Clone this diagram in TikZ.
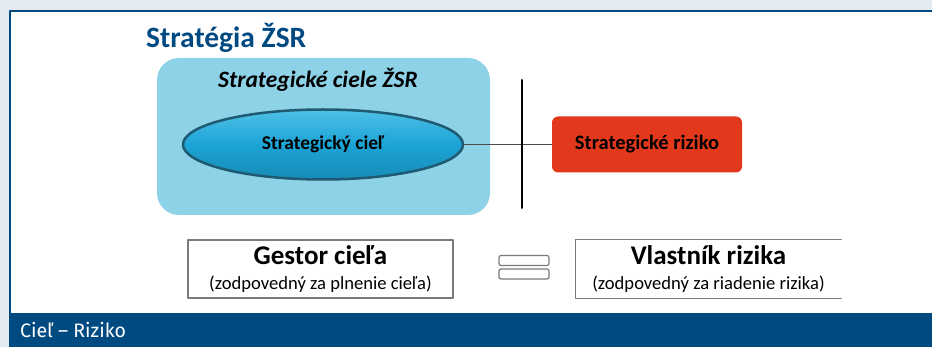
\documentclass[tikz,border=0pt]{standalone}
\usepackage{fontspec}
\setmainfont{Carlito}
\newfontfamily\barfont{Fira Sans}
\usetikzlibrary{shapes.geometric}

\definecolor{zsrblue}{HTML}{004A82}
\definecolor{framebg}{HTML}{E4EAF1}
\definecolor{cielbg}{HTML}{8ED2E8}
\definecolor{ovalfill}{HTML}{1BA4D6}
\definecolor{ovaltop}{HTML}{4FC0E6}
\definecolor{ovaledge}{HTML}{1E5A72}
\definecolor{rizikored}{HTML}{E2391C}
\definecolor{boxgray}{HTML}{7A7A7A}

\tikzset{
  ownerbox/.style={minimum width=265pt, minimum height=58pt, inner sep=0pt, align=center, font=\fontsize{18.6}{25}\selectfont},
  eqbar/.style={draw=boxgray, line width=1.2pt, fill=white, rounded corners=2pt, minimum width=50pt, minimum height=10pt, inner sep=0pt},
}
\newcommand\ownerhead[1]{{\bfseries\fontsize{27}{25}\selectfont #1}}

\begin{document}
\begin{tikzpicture}[x=1pt, y=-1pt, line cap=round, line join=round]

  %% ════ pozadie a rám ════
  \fill[framebg] (0,0) rectangle (932,347);
  \fill[white] (9,10) rectangle (932,313);
  \draw[zsrblue, line width=2pt] (10,347) -- (10,11) -- (932,11);
  \fill[zsrblue] (9,313) rectangle (932,347);
  \node[anchor=west, inner sep=0pt, text=white, font=\barfont\fontsize{19.5}{22}\selectfont] (barlabel) at (20,330) {Cieľ – Riziko};

  %% ════ nadpis ════
  \node[anchor=west, inner sep=0pt, text=zsrblue, font=\bfseries\fontsize{29.5}{32}\selectfont] (title) at (146,38) {Stratégia ŽSR};

  %% ════ strategické ciele ════
  \fill[cielbg, rounded corners=22pt] (157,58) rectangle (490,215);
  \node[inner sep=0pt, font=\bfseries\itshape\fontsize{23.5}{26}\selectfont] (cielehead) at (318,80) {Strategické ciele ŽSR};
  \node[ellipse, draw=ovaledge, line width=2.5pt, top color=ovaltop, bottom color=ovalfill!85!black, middle color=ovalfill, minimum width=280pt, minimum height=70pt, inner sep=0pt, font=\bfseries\fontsize{19.5}{22}\selectfont] (ciel) at (323,144.5) {Strategický cieľ};

  %% ════ riziko ════
  \node[rounded corners=6pt, fill=rizikored, minimum width=190pt, minimum height=56pt, inner sep=0pt, font=\bfseries\fontsize{20.5}{24}\selectfont] (riziko) at (647,144.5) {Strategické riziko};
  \coordinate (cuttop) at (522,80);
  \coordinate (cutbot) at (522,208);
  \draw[line width=1pt, black!70] (ciel.east) -- (riziko.west);
  \draw[line width=2pt] (cuttop) -- (cutbot);

  %% ════ gestor = vlastník ════
  \node[ownerbox, draw=boxgray, line width=1.2pt] (gestor) at (320.5,269)
    {\ownerhead{Gestor cieľa}\\(zodpovedný za plnenie cieľa)};
  \node[eqbar] (eqtop) at (524,260.5) {};
  \node[eqbar] (eqbot) at (524,274) {};
  \node[ownerbox] (vlastnik) at (708.5,269)
    {\ownerhead{Vlastník rizika}\\(zodpovedný za riadenie rizika)};
  \draw[boxgray, line width=1.2pt] (vlastnik.north east) -- (vlastnik.north west) -- (vlastnik.south west) -- (vlastnik.south east);

  \pgfresetboundingbox
  \path[use as bounding box] (0,0) rectangle (932,347);
\end{tikzpicture}
\end{document}
